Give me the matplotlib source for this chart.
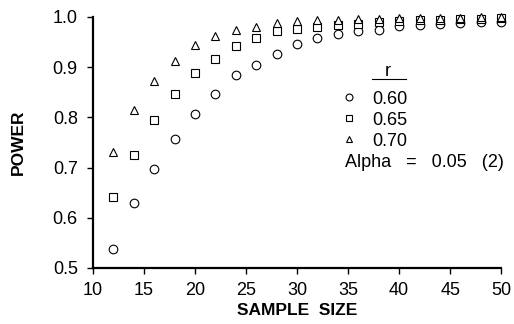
import matplotlib.pyplot as plt
from matplotlib.lines import Line2D

plt.rcParams['font.family'] = ['Liberation Sans', 'DejaVu Sans']

# Sample sizes (n = 12, 14, ..., 50)
sample_size = [12, 14, 16, 18, 20, 22, 24, 26, 28, 30, 32, 34, 36, 38, 40,
               42, 44, 46, 48, 50]

# Power for each correlation r
power_060 = [0.537, 0.629, 0.697, 0.756, 0.806, 0.846, 0.884, 0.904, 0.926,
             0.946, 0.958, 0.966, 0.971, 0.974, 0.981, 0.983, 0.985, 0.987,
             0.989, 0.990]
power_065 = [0.641, 0.724, 0.795, 0.847, 0.888, 0.916, 0.942, 0.958, 0.972,
             0.976, 0.979, 0.984, 0.986, 0.989, 0.991, 0.993, 0.994, 0.995,
             0.996, 0.997]
power_070 = [0.730, 0.815, 0.872, 0.912, 0.944, 0.962, 0.974, 0.979, 0.987,
             0.991, 0.993, 0.994, 0.995, 0.996, 0.997, 0.998, 0.998, 0.998,
             0.999, 0.999]

r_labels = ["0.60", "0.65", "0.70"]

xticks = [10, 15, 20, 25, 30, 35, 40, 45, 50]
yticks = [0.5, 0.6, 0.7, 0.8, 0.9, 1.0]

fig = plt.figure(figsize=(5.14, 3.24), dpi=100)
ax = fig.add_axes([0.181, 0.173, 0.794, 0.775])

style = dict(linestyle="none", markerfacecolor="white", markeredgecolor="black",
             markeredgewidth=0.8, clip_on=False)
h1, = ax.plot(sample_size, power_060, marker="o", markersize=6.2, label=r_labels[0], **style)
h2, = ax.plot(sample_size, power_065, marker="s", markersize=5.2, label=r_labels[1], **style)
h3, = ax.plot(sample_size, power_070, marker="^", markersize=5.5, label=r_labels[2], **style)

ax.set_xlim(10, 50)
ax.set_ylim(0.5, 1.0)
ax.set_xticks(xticks)
ax.set_yticks(yticks)
ax.set_yticklabels([f"{v:.1f}" for v in yticks])

for side in ("top", "right"):
    ax.spines[side].set_visible(False)
for side in ("left", "bottom"):
    ax.spines[side].set_linewidth(1.6)

ax.tick_params(direction="out", length=4, width=1, labelsize=13)
ax.tick_params(axis="x", pad=6)
ax.tick_params(axis="y", pad=7)

ax.set_xlabel("SAMPLE  SIZE", fontsize=12.5, fontweight="bold", labelpad=3)
ax.set_ylabel("POWER", fontsize=12.5, fontweight="bold", labelpad=19)

leg = ax.legend(handles=[h1, h2, h3], loc="upper left",
                bbox_to_anchor=(0.61, 0.706), frameon=False, fontsize=13,
                markerscale=0.8, handlelength=0.8, handletextpad=0.9,
                labelspacing=0.22, borderpad=0, borderaxespad=0)

# legend title, underlined
ax.text(0.723, 0.781, "r", transform=ax.transAxes, fontsize=13,
        ha="center", va="center")
ax.add_line(Line2D([0.684, 0.767], [0.753, 0.753], transform=ax.transAxes,
                   color="black", linewidth=0.8))

ax.text(0.617, 0.42, "Alpha   =   0.05   (2)", transform=ax.transAxes,
        fontsize=13, va="center", ha="left")

fig.savefig("out.png", dpi=100)
